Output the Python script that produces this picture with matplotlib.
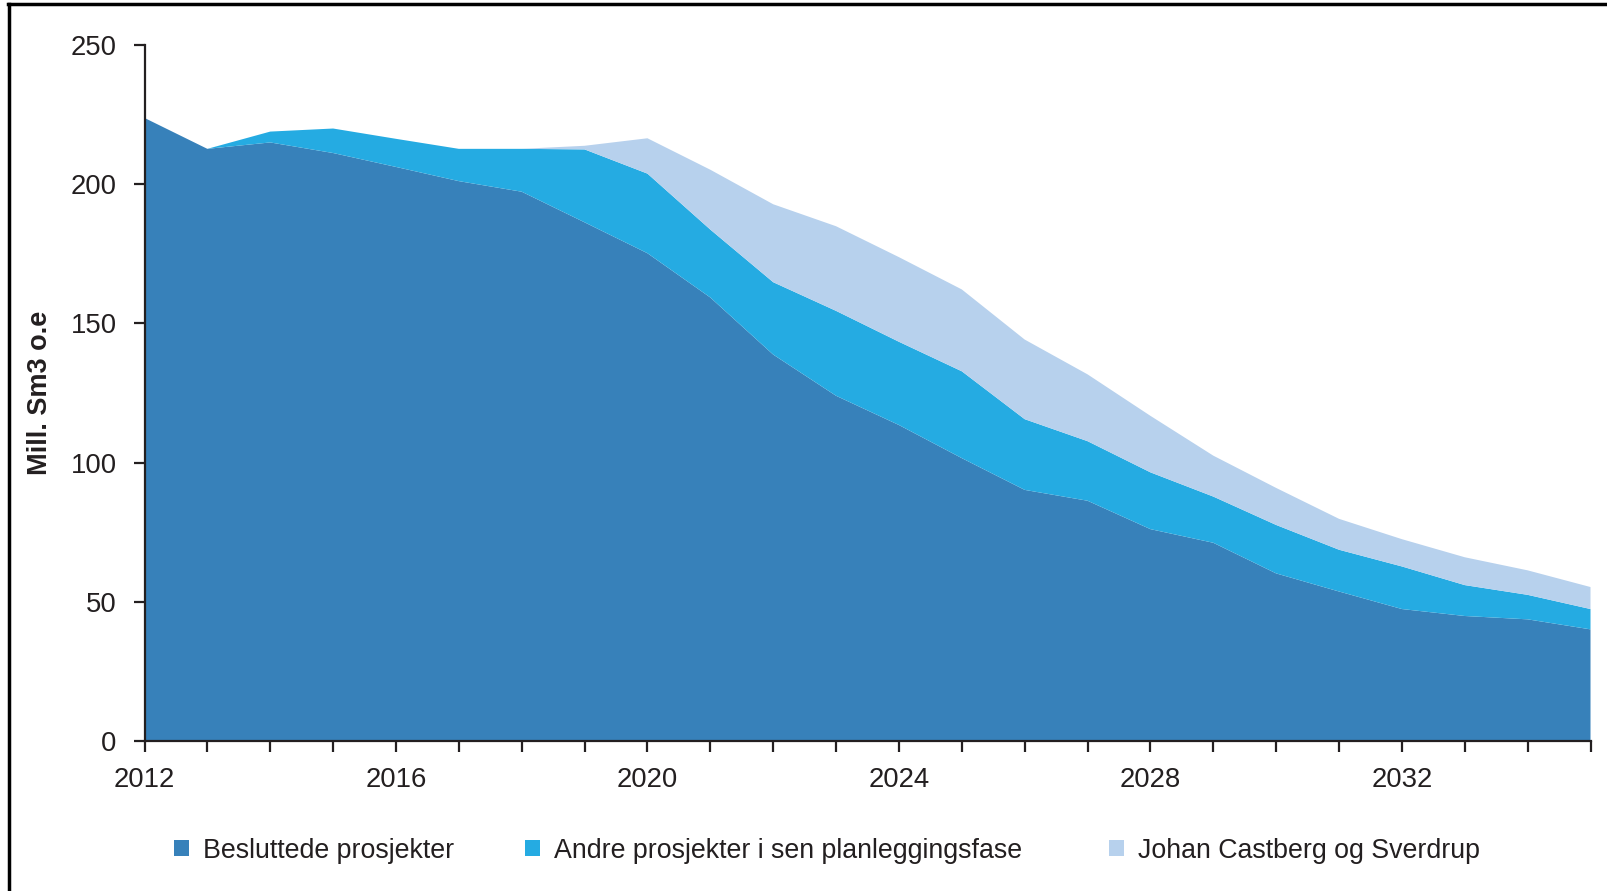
import matplotlib
matplotlib.use("Agg")
import matplotlib.pyplot as plt
from matplotlib.patches import Patch
from matplotlib.lines import Line2D
from matplotlib.ticker import MultipleLocator
import numpy as np

plt.rcParams['font.family'] = ['Liberation Sans', 'DejaVu Sans']

years = list(range(2012, 2036))
besluttede = [223.8, 212.7, 215.0, 211.2, 206.2, 201.1, 197.3, 186.3, 175.2, 159.3,
              138.8, 124.0, 113.5, 101.6, 90.2, 86.3, 76.1, 71.2, 60.2, 53.7,
              47.4, 44.9, 43.7, 40.1]
andre = [0.0, 0.0, 3.9, 8.8, 10.1, 11.6, 15.4, 26.2, 28.6, 24.4,
         26.0, 30.5, 29.9, 31.2, 25.4, 21.4, 20.4, 16.6, 17.4, 15.0,
         15.3, 11.1, 8.8, 7.3]
johan = [0.0, 0.0, 0.0, 0.0, 0.0, 0.0, 0.0, 1.3, 12.7, 21.5,
         28.0, 30.4, 30.4, 29.4, 28.6, 24.0, 20.3, 14.7, 13.3, 11.1,
         9.8, 10.0, 8.8, 7.9]
labels = ["Besluttede prosjekter", "Andre prosjekter i sen planleggingsfase",
          "Johan Castberg og Sverdrup"]
colors = ["#3781BA", "#25ABE2", "#B7D1ED"]
y_label = "Mill. Sm3 o.e"

W, H = 1607, 891
fig = plt.figure(figsize=(W/100, H/100), dpi=100)
L, R, T, B = 144.5, 1590.5, 45, 741
ax = fig.add_axes([L/W, 1-B/H, (R-L)/W, (B-T)/H])

ax.stackplot(years, besluttede, andre, johan, colors=colors, linewidth=0)

ax.set_xlim(2012, 2035)
ax.set_ylim(0, 250)
ax.xaxis.set_major_locator(MultipleLocator(4))
ax.xaxis.set_minor_locator(MultipleLocator(1))
ax.yaxis.set_major_locator(MultipleLocator(50))

for s in ['top', 'right']:
    ax.spines[s].set_visible(False)
for s in ['left', 'bottom']:
    ax.spines[s].set_color('#231F20')
    ax.spines[s].set_linewidth(1.6)
    ax.spines[s].set_zorder(5)

ax.tick_params(axis='both', which='both', direction='out', color='#231F20',
               width=1.6, labelsize=19.8, labelcolor='#231F20')
ax.tick_params(axis='x', which='both', length=8, pad=10.5)
ax.tick_params(axis='y', which='both', length=8, pad=12)

ax.set_ylabel(y_label, fontsize=19.5, fontweight='bold', color='#231F20')
ax.yaxis.set_label_coords(-0.063, 0.5)

handle_x = [174/W, 525/W, 1109/W]
for lab, col, hx in zip(labels, colors, handle_x):
    fig.legend(handles=[Patch(facecolor=col, edgecolor='none')], labels=[lab],
               loc='center left', bbox_to_anchor=(hx, 1-850.5/H),
               frameon=False, fontsize=19.3, handlelength=0.55, handleheight=0.55,
               handletextpad=0.55, borderpad=0, borderaxespad=0,
               labelcolor='#231F20')

fig.add_artist(Line2D([8/W, 1], [1-3.5/H, 1-3.5/H], color='black', linewidth=2.5,
                      transform=fig.transFigure))
fig.add_artist(Line2D([8.5/W, 8.5/W], [0, 1-3.5/H], color='black', linewidth=2.5,
                      transform=fig.transFigure))

fig.savefig("out.png", dpi=100)
